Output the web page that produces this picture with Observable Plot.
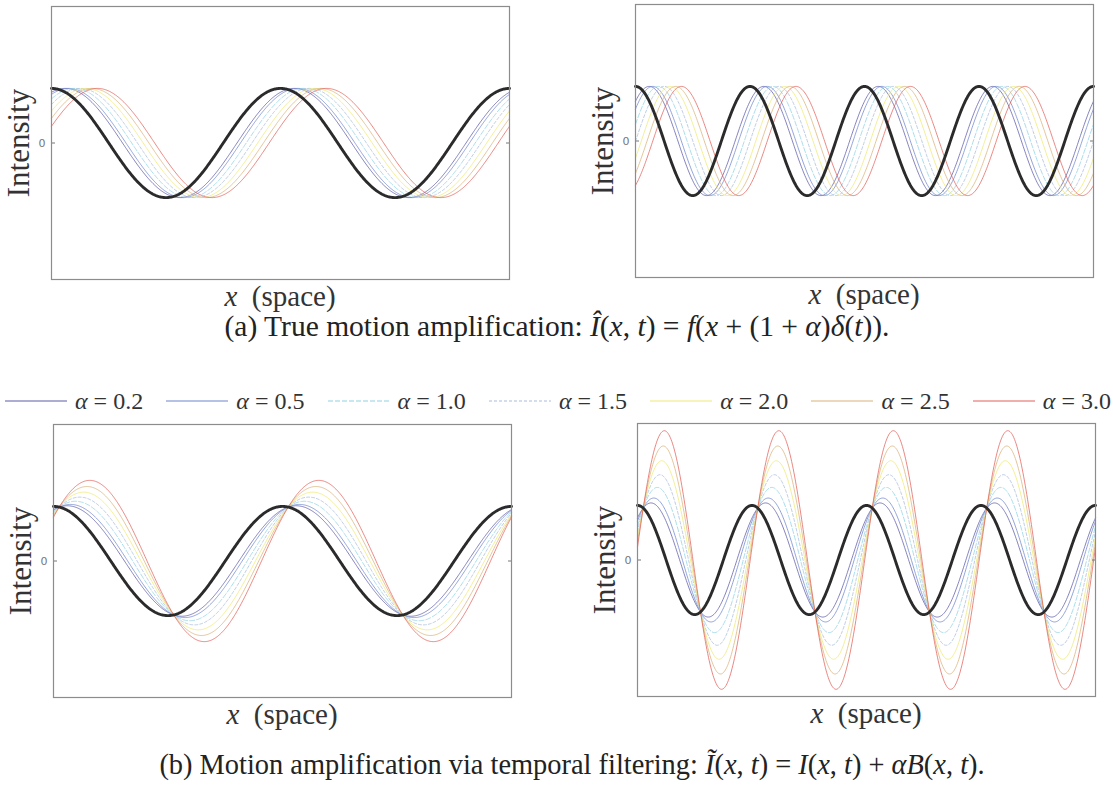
<!DOCTYPE html>
<html>
<head>
<meta charset="utf-8">
<script src="https://cdn.jsdelivr.net/npm/d3@7"></script>
<script src="https://cdn.jsdelivr.net/npm/@observablehq/plot@0.6"></script>
<style>
  html, body { margin: 0; padding: 0; background: #fff; }
  #fig { position: relative; width: 1113px; height: 790px; overflow: hidden; background: #fff;
         font-family: "Liberation Serif", "Times New Roman", serif; color: #2a2a2a; }
  .panel { position: absolute; }
  .ylab { position: absolute; font-size: 31px; line-height: 1; transform: translate(-50%, -50%) rotate(-90deg); white-space: nowrap; color: #333; }
  .xlab { position: absolute; font-size: 29px; line-height: 1; transform: translate(-50%, -50%); white-space: nowrap; color: #333; }
  .cap { position: absolute; line-height: 1; transform: translate(-50%, -50%); white-space: nowrap; color: #222; }
  #legend { position: absolute; left: 5px; top: 387px; width: 1106px; height: 28px; display: flex; justify-content: space-between; align-items: center; }
  .item { display: flex; align-items: center; gap: 8px; font-size: 24px; line-height: 1; color: #333; white-space: nowrap; }
  i { font-style: italic; }
</style>
</head>
<body>
<div id="fig"></div>
<script>
// ---- data ----
const alphas = [0.2, 0.5, 1.0, 1.5, 2.0, 2.5, 3.0];
const alphaColors = ["#5c5aa6", "#6f86cc", "#8fd2e4", "#a9bcdc", "#eeea72", "#d9b27a", "#e2605a"];
const alphaDashes = ["none", "none", "5,2", "3,2", "none", "none", "none"];
const delta = 0.315;                 // spatial displacement δ(t), in x units
const spatialFreqs = [1, 2];         // left column, right column
const xExtent = [0, 4 * Math.PI];    // visible x (space) range
const yExtent = [-2.5, 2.5];         // Intensity axis range
const yTicks = [0];
const legendLabels = alphas.map(a => a.toFixed(1));

// ---- layout ----
const fig = document.getElementById("fig");
const FW = 458, FH = 273, ML = 50, MR = 10, MT = 6, MB = 6;
const samples = d3.range(0, 601).map(i => xExtent[0] + (xExtent[1] - xExtent[0]) * i / 600);

function panel(k, mode) {
  const base = samples.map(x => ({x, y: Math.cos(k * x)}));
  const curves = alphas.map(a => samples.map(x => ({
    x,
    y: mode === "a"
      ? Math.cos(k * (x - (1 + a) * delta))
      : (1 + a) * Math.cos(k * (x - delta)) - a * Math.cos(k * x)
  })));
  return Plot.plot({
    width: FW + ML + MR, height: FH + MT + MB,
    marginLeft: ML, marginRight: MR, marginTop: MT, marginBottom: MB,
    x: {domain: xExtent, axis: null},
    y: {domain: yExtent, axis: null},
    style: {background: "transparent", overflow: "visible"},
    marks: [
      ...curves.map((c, j) => Plot.line(c, {x: "x", y: "y", stroke: alphaColors[j], strokeWidth: 1,
        strokeOpacity: 0.75, strokeDasharray: alphaDashes[j]})),
      Plot.line(base, {x: "x", y: "y", stroke: "#2b2b2b", strokeWidth: 2.9}),
      Plot.axisY(yTicks, {anchor: "left", tickSize: -4, tickPadding: 10, tickFormat: d => String(d),
        fontSize: 11, color: "#777", label: null, fontFamily: "DejaVu Sans, sans-serif"}),
      Plot.axisY(yTicks, {anchor: "right", tickSize: -4, tickFormat: () => "", color: "#777", label: null}),
      Plot.frame({stroke: "#8c8c8c", strokeWidth: 1.2})
    ]
  });
}

const panels = [
  {fx: 51,  fy: 6,   k: spatialFreqs[0], mode: "a"},
  {fx: 635, fy: 4,   k: spatialFreqs[1], mode: "a"},
  {fx: 53,  fy: 424, k: spatialFreqs[0], mode: "b"},
  {fx: 637, fy: 423, k: spatialFreqs[1], mode: "b"}
];
panels.forEach(p => {
  const svg = panel(p.k, p.mode);
  const wrap = document.createElement("div");
  wrap.className = "panel";
  wrap.style.left = (p.fx - ML) + "px";
  wrap.style.top = (p.fy - MT) + "px";
  wrap.appendChild(svg);
  fig.appendChild(wrap);

  const yl = document.createElement("div");
  yl.className = "ylab";
  yl.textContent = "Intensity";
  yl.style.left = (p.fx - 33) + "px";
  yl.style.top = (p.fy + FH / 2) + "px";
  fig.appendChild(yl);

  const xl = document.createElement("div");
  xl.className = "xlab";
  xl.innerHTML = "<i>x</i>&nbsp;&nbsp;(space)";
  xl.style.left = (p.fx + FW / 2) + "px";
  xl.style.top = (p.fy + FH + 17) + "px";
  fig.appendChild(xl);
});

// captions
const capA = document.createElement("div");
capA.className = "cap";
capA.style.fontSize = "29.5px";
capA.innerHTML = "(a) True motion amplification: <i>Î</i>(<i>x</i>, <i>t</i>) = <i>f</i>(<i>x</i> + (1 + <i>α</i>)<i>δ</i>(<i>t</i>)).";
capA.style.left = "557px"; capA.style.top = "327px";
fig.appendChild(capA);

const capB = document.createElement("div");
capB.className = "cap";
capB.style.fontSize = "28.4px";
capB.innerHTML = "(b) Motion amplification via temporal filtering: <i>Ĩ</i>(<i>x</i>, <i>t</i>) = <i>I</i>(<i>x</i>, <i>t</i>) + <i>αB</i>(<i>x</i>, <i>t</i>).";
capB.style.left = "572px"; capB.style.top = "765px";
fig.appendChild(capB);

// legend
const legend = document.createElement("div");
legend.id = "legend";
alphas.forEach((a, j) => {
  const item = document.createElement("div");
  item.className = "item";
  const s = d3.create("svg").attr("width", 62).attr("height", 6);
  s.append("line").attr("x1", 0).attr("x2", 62).attr("y1", 3).attr("y2", 3)
    .attr("stroke", alphaColors[j]).attr("stroke-width", 1.2)
    .attr("stroke-dasharray", alphaDashes[j] === "none" ? null : alphaDashes[j]);
  item.appendChild(s.node());
  const t = document.createElement("span");
  t.innerHTML = "<i>α</i> = " + legendLabels[j];
  item.appendChild(t);
  legend.appendChild(item);
});
fig.appendChild(legend);
</script>
</body>
</html>
